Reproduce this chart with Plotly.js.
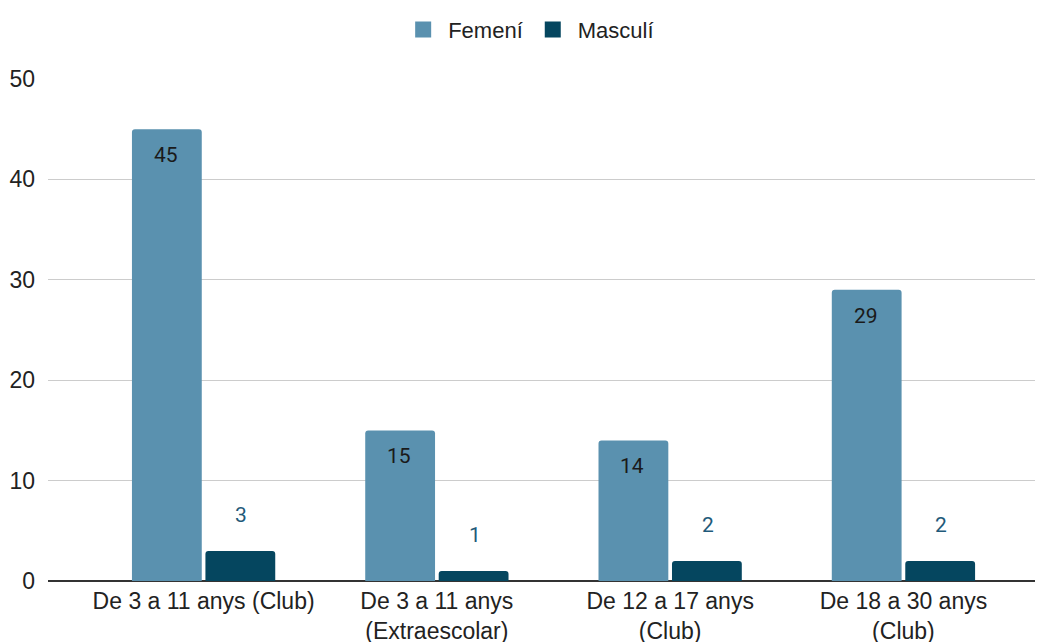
<!DOCTYPE html>
<html><head><meta charset="utf-8">
<script src="https://cdn.plot.ly/plotly-3.0.1.min.js"></script>
<style>html,body{margin:0;padding:0;background:#fff}#chart{width:1047px;height:642px}</style>
</head><body><div id="chart"></div>
<script>
const categories = ["De 3 a 11 anys (Club)", "De 3 a 11 anys<br>(Extraescolar)", "De 12 a 17 anys<br>(Club)", "De 18 a 30 anys<br>(Club)"];
const femeni = [45, 15, 14, 29];
const masculi = [3, 1, 2, 2];
const seriesNames = ["Femení", "Masculí"];
const colors = ["#5a91af", "#05465f"];

const barOffset = 0.1615;
const annotations = [];
categories.forEach((c, i) => {
  annotations.push({x: i - barOffset, y: femeni[i], xref: 'x', yref: 'y', text: String(femeni[i]),
    showarrow: false, yanchor: 'top', yshift: -12,
    font: {family: 'Roboto, sans-serif', size: 21, color: '#1a1a1a'}});
  annotations.push({x: i + barOffset, y: masculi[i], xref: 'x', yref: 'y', text: String(masculi[i]),
    showarrow: false, yanchor: 'middle', yshift: 36,
    font: {family: 'Roboto, sans-serif', size: 21, color: '#1f5a7a'}});
});

const data = [
  {type: 'bar', name: seriesNames[0], x: [0,1,2,3], y: femeni, marker: {color: colors[0]}, hoverinfo: 'none', showlegend: false},
  {type: 'bar', name: seriesNames[1], x: [0,1,2,3], y: masculi, marker: {color: colors[1]}, hoverinfo: 'none', showlegend: false},
  {type: 'scatter', mode: 'markers', name: seriesNames[0], x: [null], y: [null], marker: {color: colors[0], symbol: 'square', size: 22}, showlegend: true},
  {type: 'scatter', mode: 'markers', name: seriesNames[1], x: [null], y: [null], marker: {color: colors[1], symbol: 'square', size: 22}, showlegend: true}
];

const layout = {
  width: 1047, height: 642,
  margin: {l: 48, r: 12, t: 79, b: 61, autoexpand: false},
  paper_bgcolor: '#fff', plot_bgcolor: '#fff',
  barmode: 'group', bargap: 0.37, bargroupgap: 0.05, barcornerradius: 3,
  font: {family: '"Liberation Sans", Arial, sans-serif', size: 23, color: '#222'},
  showlegend: true,
  legend: {orientation: 'h', x: 0.487, xanchor: 'center', y: 1.098, yanchor: 'middle',
    font: {size: 22, color: '#222'}, traceorder: 'normal', itemwidth: 40},
  xaxis: {type: 'linear', range: [-0.667, 3.564], tickvals: [0,1,2,3], ticktext: categories,
    showgrid: false, zeroline: false, showline: false, ticks: '', ticklabelstandoff: 4, automargin: false,
    tickfont: {size: 23, color: '#222'}},
  yaxis: {range: [0, 50], tickvals: [0,10,20,30,40,50], showgrid: true, gridcolor: '#cccccc', gridwidth: 1,
    zeroline: true, zerolinecolor: '#333', zerolinewidth: 1.5, showline: false, ticks: '', ticklabelstandoff: 12,
    automargin: false, tickfont: {size: 23, color: '#222'}},
  annotations: annotations
};

Plotly.newPlot('chart', data, layout, {displayModeBar: false, staticPlot: true});
</script></body></html>
